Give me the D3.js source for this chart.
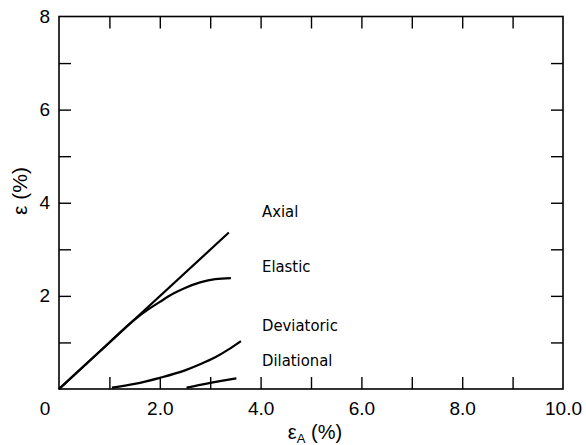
<!DOCTYPE html>
<html><head><meta charset="utf-8">
<script src="https://cdn.jsdelivr.net/npm/d3@7"></script>
<style>body{margin:0;background:#fff}svg{display:block}</style>
</head><body>
<script>
// ---- data ----
const xTickLabels = ["2.0","4.0","6.0","8.0","10.0"];
const xTickLabelValues = [2,4,6,8,10];
const yTickLabelValues = [2,4,6,8];
const minorTicks = [1,2,3,4,5,6,7,8,9];
const yMinorTicks = [1,2,3,4,5,6,7];
const axialX = [0, 3.37];
const axialY = [0, 3.36];
const elasticX = [0, 1.0, 1.5, 1.8, 2.0, 2.27, 2.5, 2.8, 3.1, 3.41];
const elasticY = [0, 1.0, 1.49, 1.73, 1.87, 2.05, 2.17, 2.29, 2.36, 2.38];
const deviatoricX = [1.05, 1.5, 2.0, 2.5, 2.8, 3.1, 3.35, 3.61];
const deviatoricY = [0.03, 0.11, 0.24, 0.40, 0.53, 0.68, 0.84, 1.03];
const dilationalX = [2.53, 2.8, 3.0, 3.25, 3.52];
const dilationalY = [0.03, 0.09, 0.13, 0.18, 0.23];
const labels = ["Axial","Elastic","Deviatoric","Dilational"];
const labelY = [3.83, 2.65, 1.37, 0.62];

const W = 586, H = 445;
const m = {l:59, r:23, t:16.5, b:56};
const svg = d3.select("body").append("svg").attr("width",W).attr("height",H);
const x = d3.scaleLinear().domain([0,10]).range([m.l, W-m.r]);
const y = d3.scaleLinear().domain([0,8]).range([H-m.b, m.t]);
const font = "Liberation Sans, Arial, sans-serif";

// frame
svg.append("rect").attr("x",x(0)).attr("y",y(8)).attr("width",x(10)-x(0)).attr("height",y(0)-y(8))
  .attr("fill","none").attr("stroke","#000").attr("stroke-width",1.6);

function ticks(axisGen, transform){
  const g = svg.append("g").attr("transform",transform).call(axisGen);
  g.select(".domain").remove();
  g.selectAll("text").remove();
  g.selectAll("line").attr("stroke","#000").attr("stroke-width",1.4);
}
ticks(d3.axisBottom(x).tickValues(minorTicks).tickSize(-12), `translate(0,${y(0)})`);
ticks(d3.axisTop(x).tickValues(minorTicks).tickSize(-12), `translate(0,${y(8)})`);
ticks(d3.axisLeft(y).tickValues(yMinorTicks).tickSize(-12), `translate(${x(0)},0)`);
ticks(d3.axisRight(y).tickValues(yMinorTicks).tickSize(-12), `translate(${x(10)},0)`);

// tick labels
const xl = svg.append("g").attr("transform",`translate(0,${y(0)})`)
  .call(d3.axisBottom(x).tickValues(xTickLabelValues).tickSize(0).tickPadding(13)
    .tickFormat((d,i)=>xTickLabels[i]));
xl.select(".domain").remove();
xl.selectAll("text").attr("font-family",font).attr("font-size",19).attr("fill","#000");
svg.append("text").attr("x",45).attr("y",y(0)+26).attr("text-anchor","middle")
  .attr("font-family",font).attr("font-size",19).text("0");

const yl = svg.append("g").attr("transform",`translate(${x(0)},0)`)
  .call(d3.axisLeft(y).tickValues(yTickLabelValues).tickSize(0).tickPadding(9).tickFormat(d3.format("d")));
yl.select(".domain").remove();
yl.selectAll("text").attr("font-family",font).attr("font-size",19).attr("fill","#000");

// axis titles
svg.append("text").attr("transform",`translate(27,191) rotate(-90)`).attr("text-anchor","middle")
  .attr("font-family",font).attr("font-size",21).text("ε (%)");
const xt = svg.append("text").attr("x",315).attr("y",439).attr("text-anchor","middle")
  .attr("font-family",font).attr("font-size",20);
xt.append("tspan").text("ε");
xt.append("tspan").attr("font-size",13).attr("dy",4).text("A");
xt.append("tspan").attr("dy",-4).text(" (%)");

// curves
const line = d3.line().x(d=>x(d[0])).y(d=>y(d[1])).curve(d3.curveMonotoneX);
const series = [[axialX,axialY],[elasticX,elasticY],[deviatoricX,deviatoricY],[dilationalX,dilationalY]];
series.forEach(([xs,ys])=>{
  svg.append("path").datum(xs.map((v,i)=>[v,ys[i]])).attr("d",line)
    .attr("fill","none").attr("stroke","#000").attr("stroke-width",2.2);
});

// curve labels
labels.forEach((t,i)=>{
  svg.append("text").attr("x",262).attr("y",y(labelY[i])+6)
    .attr("font-family","DejaVu Sans Condensed, DejaVu Sans, sans-serif").attr("font-size",16.5)
    .attr("fill","#000").text(t);
});
</script>
</body></html>
